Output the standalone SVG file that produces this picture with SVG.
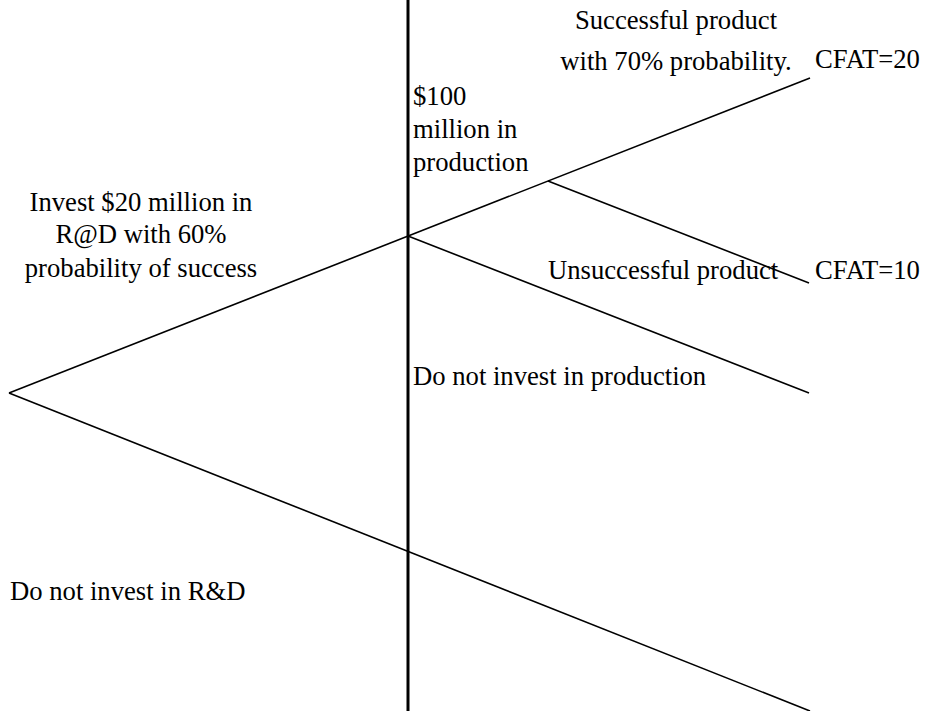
<svg xmlns="http://www.w3.org/2000/svg" width="929" height="711" viewBox="0 0 929 711">
<style>
.ln{stroke:#000;stroke-width:1.6;fill:none}
.ax{stroke:#000;stroke-width:3;fill:none}
text{font-family:"Liberation Serif","Times New Roman",serif;font-size:26.67px;fill:#000}
.c{text-anchor:middle}
</style>
<rect width="929" height="711" fill="#fff"/>
<g id="connectors">
<line class="ax" x1="408" y1="0" x2="408" y2="711"/>
<line class="ln" x1="9" y1="393" x2="810" y2="78"/>
<line class="ln" x1="408" y1="236" x2="809" y2="393"/>
<line class="ln" x1="548" y1="181" x2="809" y2="283"/>
<line class="ln" x1="9" y1="393" x2="810" y2="711"/>
</g>
<g id="rd-invest">
<text class="c" x="141" y="211">Invest $20 million in</text>
<text class="c" x="141" y="243">R@D with 60%</text>
<text class="c" x="141" y="277">probability of success</text>
</g>
<g id="production">
<text x="413" y="105">$100</text>
<text x="413" y="138">million in</text>
<text x="413" y="171">production</text>
</g>
<g id="success">
<text class="c" x="676" y="29">Successful product</text>
<text class="c" x="676" y="70">with 70% probability.</text>
<text x="815" y="68">CFAT=20</text>
</g>
<g id="unsuccess">
<text x="548" y="279">Unsuccessful product</text>
<text x="815" y="279">CFAT=10</text>
</g>
<g id="no-production">
<text x="413" y="385">Do not invest in production</text>
</g>
<g id="no-rd">
<text x="10" y="600">Do not invest in R&amp;D</text>
</g>
</svg>
